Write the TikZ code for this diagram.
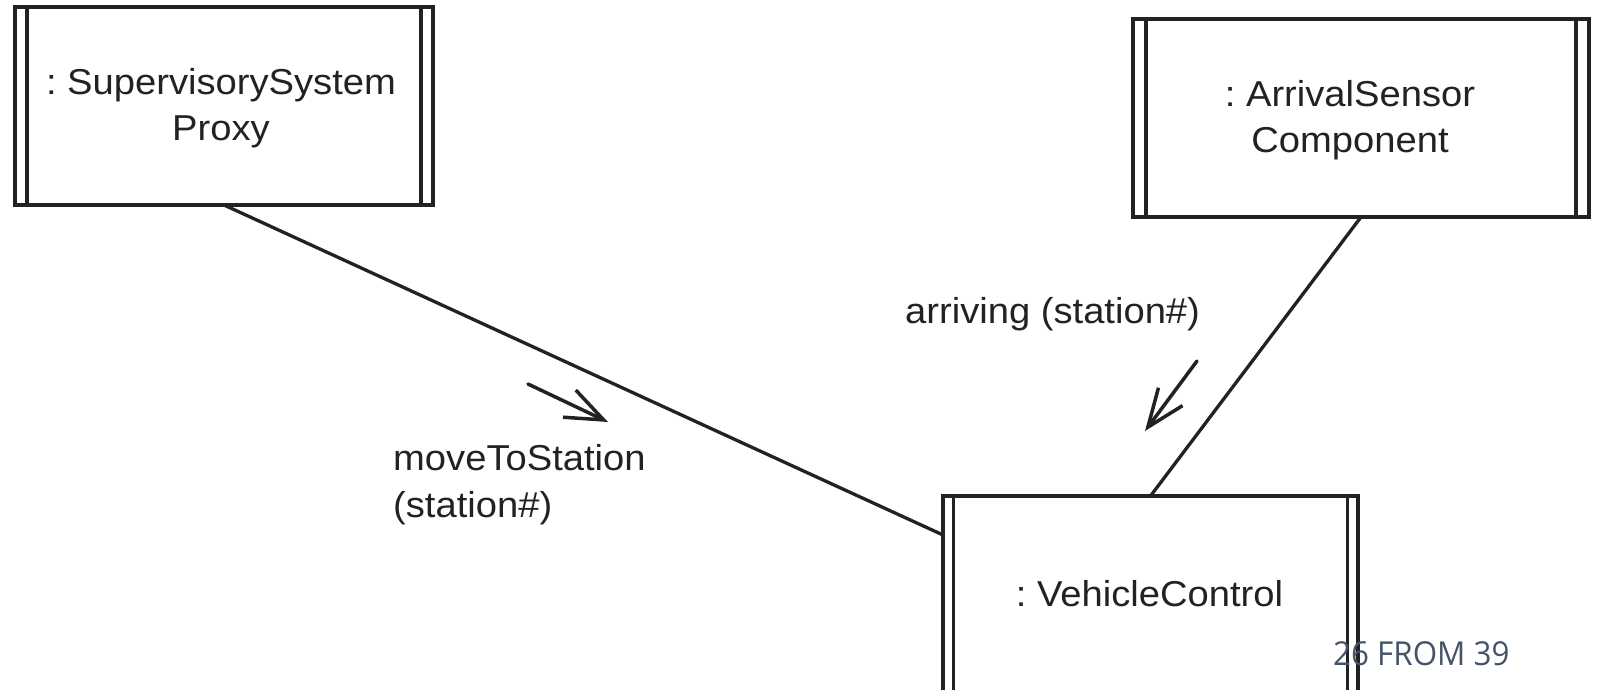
\documentclass[tikz,border=0pt]{standalone}
\usepackage{fontspec}
\setmainfont{Liberation Sans}[FakeStretch=1.06]
\newfontfamily\pagefont{Open Sans}
\usetikzlibrary{arrows.meta}
\definecolor{ink}{HTML}{222222}
\definecolor{slate}{HTML}{44546A}
\frenchspacing
\begin{document}
\begin{tikzpicture}[x=1pt,y=-1pt,
  objbox/.style={draw=ink, line width=3.3pt, inner sep=0pt, outer sep=0pt},
  objtext/.style={font=\fontsize{36}{46}\selectfont, text=ink, inner sep=0pt,
    align=center, anchor=base},
  link/.style={draw=ink, line width=3.3pt},
  msg/.style={draw=ink, line width=3.5pt, line cap=round,
    -{Straight Barb[length=38pt,width=30pt]}},
  lbl/.style={font=\fontsize{36}{47}\selectfont, text=ink, inner sep=0pt,
    align=left, anchor=base west}]
\useasboundingbox[fill=white] (0,0) rectangle (1598,690);

% active objects with doubled side bars
\node[objbox, minimum width=418pt, minimum height=198pt] (sup) at (224,106) {};
\node[objbox, minimum width=456pt, minimum height=198pt] (arr) at (1361,118) {};
\node[objbox, minimum width=415pt, minimum height=208pt] (veh) at (1150.5,600) {};

\draw[link] ([xshift=12pt]sup.north west) -- ([xshift=12pt]sup.south west);
\draw[link] ([xshift=-12pt]sup.north east) -- ([xshift=-12pt]sup.south east);
\draw[link] ([xshift=13pt]arr.north west) -- ([xshift=13pt]arr.south west);
\draw[link] ([xshift=-13pt]arr.north east) -- ([xshift=-13pt]arr.south east);
\draw[link] ([xshift=10.5pt]veh.north west) -- ([xshift=10.5pt]veh.south west);
\draw[link] ([xshift=-10.5pt]veh.north east) -- ([xshift=-10.5pt]veh.south east);

% object names (base anchor sits on the last line)
\node[objtext] (suptext) at (221,140) {: SupervisorySystem\\Proxy};
\node[objtext] (arrtext) at (1350,153) {: ArrivalSensor\\Component};
\node[objtext] (vehtext) at (1149.5,606) {: VehicleControl};

% links between the objects
\draw[link] (sup.south) -- ([yshift=-39pt]veh.north west);
\draw[link] (arr.south) -- (veh.north);

% messages
\coordinate (moveFrom) at (528,384);
\coordinate (moveTo) at (608,422);
\draw[msg] (moveFrom) -- (moveTo);
\coordinate (arrFrom) at (1197,361);
\coordinate (arrTo) at (1145,431);
\draw[msg] (arrFrom) -- (arrTo);

\node[lbl] (movelbl) at (393,517) {moveToStation\\(station\#)};
\node[lbl] (arrlbl) at (905,323) {arriving (station\#)};

% slide page number
\node[font=\pagefont\fontsize{33}{33}\selectfont, text=slate, anchor=base west,
  inner sep=0pt] (pagenum) at (1333,665) {\scalebox{0.95}[1]{26 FROM 39}};
\end{tikzpicture}
\end{document}
